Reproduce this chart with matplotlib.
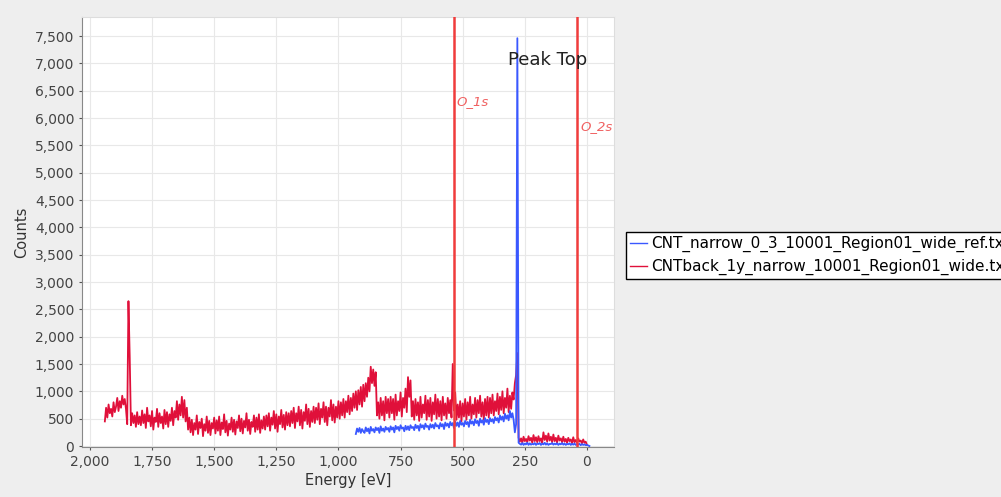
import numpy as np
import matplotlib as mpl
mpl.use('Agg')
import matplotlib.pyplot as plt
from matplotlib.ticker import FuncFormatter, MultipleLocator

# Spectrum grid (eV), 5 eV steps, counts
red_energy = np.arange(1940, -1, -5)
red_counts = [
    450, 700, 520, 760, 600, 680, 540, 800, 620,                                  # 1940-1900
    720, 880, 640, 820, 700, 920, 760, 860, 680, 400, 2650, 1650, 380, 600, 420, 560, 350, 620, 400, 540,
    380, 650, 420, 580, 330, 700, 450, 560, 360, 640, 300, 520, 440, 680, 350, 600, 420, 540, 320, 660,
    400, 620, 350, 580, 460, 700, 380, 640, 520, 820, 480, 760, 560, 900, 520, 840, 450, 700, 300, 520,
    250, 480, 200, 420, 300, 560, 220, 440, 330, 500, 180, 400, 280, 540, 240, 460, 200, 420, 320, 520,
    230, 470, 280, 540, 200, 430, 310, 580, 250, 460, 190, 410, 300, 520, 260, 480, 210, 450, 330, 560,
    270, 500, 230, 460, 340, 600, 280, 480, 220, 440, 350, 560, 260, 520, 300, 580, 240, 470, 320, 540,
    300, 560, 360, 600, 280, 520, 390, 640, 320, 580, 260, 540, 400, 660, 340, 570, 300, 620, 380, 600,
    360, 640, 420, 700, 330, 600, 450, 720, 380, 660, 320, 620, 460, 760, 400, 680, 350, 640, 440, 720,
    420, 700, 480, 780, 400, 680, 520, 800, 440, 720, 380, 700, 540, 840, 470, 760, 430, 720, 520, 820,
    500, 800, 560, 860, 520, 820, 620, 920, 580, 880, 640, 960, 700, 1000, 660, 1020, 760, 1080, 720, 1120,
    820, 1150, 900, 1250, 1000, 1450, 1150, 1400, 1100, 1350, 560, 800, 500, 880, 560, 820, 470, 900, 600, 860,
    520, 900, 600, 860, 480, 940, 560, 820, 640, 980, 540, 880, 700, 1050, 620, 1260, 900, 1200, 540, 820,
    480, 860, 560, 800, 460, 900, 520, 760, 600, 920, 480, 840, 540, 880, 460, 800, 580, 940, 500, 860,
    540, 820, 470, 900, 560, 780, 500, 880, 600, 840, 520, 1500, 650, 980, 480, 760, 520, 820, 450, 780,
    540, 860, 480, 800, 560, 900, 500, 760, 580, 880, 520, 840, 600, 920, 540, 800, 480, 860, 560, 900,
    520, 880, 600, 940, 560, 820, 640, 960, 580, 900, 660, 1000, 600, 880, 700, 1050, 620, 920, 680, 980,
    850, 1150, 1300, 1700, 150, 80, 140, 60, 170, 90, 130, 70, 180, 100, 150, 60, 200, 90, 160, 70,
    180, 90, 140, 60, 250, 110, 190, 80, 230, 100, 170, 70, 210, 90, 150, 60, 190, 100, 140, 70,
    170, 80, 130, 60, 150, 90, 120, 50, 160, 70, 110, 60, 140, 80, 100, 50, 120, 60, 80, 20,      # 95-0
]

blue_energy = np.arange(930, -11, -5)
blue_counts = [
    220, 320, 260, 330, 240, 310, 270,                                           # 930-900
    240, 340, 270, 320, 230, 350, 280, 310, 250, 340, 290, 330, 240, 360, 280, 320, 260, 350, 300, 330,
    260, 360, 300, 340, 250, 370, 310, 350, 280, 380, 320, 340, 270, 370, 300, 360, 290, 380, 330, 350,
    290, 390, 330, 370, 280, 400, 340, 380, 310, 410, 350, 370, 300, 400, 340, 390, 320, 420, 360, 380,
    320, 420, 360, 400, 310, 430, 370, 410, 340, 440, 380, 420, 330, 450, 370, 430, 350, 460, 390, 420,
    360, 460, 400, 440, 350, 480, 410, 450, 380, 490, 420, 460, 370, 500, 430, 470, 390, 510, 440, 480,
    400, 510, 450, 490, 420, 530, 470, 510, 430, 560, 480, 540, 450, 590, 500, 560, 470, 640, 520, 600,
    480, 250, 400, 7460, 60, 40, 25, 55, 20, 45, 30, 60, 20, 50, 25, 40, 30, 55, 20, 45,
    35, 55, 20, 45, 30, 60, 25, 50, 20, 40, 35, 55, 25, 45, 30, 50, 20, 45, 30, 55,
    25, 45, 20, 40, 30, 50, 20, 40, 25, 45, 20, 35, 25, 40, 15, 35, 20, 30, 15, 20,
    10, 0,                                                                       # -5, -10
]

series_names = ['CNT_narrow_0_3_10001_Region01_wide_ref.txt',
                'CNTback_1y_narrow_10001_Region01_wide.txt']

markers = {'O_1s': 536, 'O_2s': 40}

fig = plt.figure(figsize=(10.01, 4.97), dpi=100, facecolor='#eeeeee')
ax = fig.add_axes([0.0819, 0.1006, 0.5315, 0.8652])
ax.set_facecolor('white')

red_line, = ax.plot(red_energy, red_counts, color='#e0103a', lw=1.3, zorder=3)
blue_line, = ax.plot(blue_energy, blue_counts, color='#3a58ff', lw=1.3, zorder=4)

for name, e in markers.items():
    ax.axvline(e, color='#f03c3c', lw=1.8, zorder=5)
ax.text(527, 6310, 'O_1s', color='#f06060', fontstyle='italic', fontsize=9.5,
        ha='left', va='center', zorder=6)
ax.text(28, 5853, 'O_2s', color='#f06060', fontstyle='italic', fontsize=9.5,
        ha='left', va='center', zorder=6)
ax.text(318, 7061, 'Peak Top', color='#222222', fontsize=13,
        ha='left', va='center', zorder=6)

ax.set_xlim(2032, -109)
ax.set_ylim(-18, 7848)
ax.xaxis.set_major_locator(MultipleLocator(250))
ax.yaxis.set_major_locator(MultipleLocator(500))
fmt = FuncFormatter(lambda v, p: '{:,.0f}'.format(v))
ax.xaxis.set_major_formatter(fmt)
ax.yaxis.set_major_formatter(fmt)
ax.tick_params(labelsize=10, colors='#555555', labelcolor='#444444', length=2, width=0.8)
ax.grid(True, color='#e8e8e8', lw=0.8, zorder=0)
ax.set_axisbelow(True)
for s in ['left', 'bottom']:
    ax.spines[s].set_color('#888888')
for s in ['top', 'right']:
    ax.spines[s].set_color('#dddddd')

ax.set_xlabel('Energy [eV]', fontsize=10.5, color='#333333', labelpad=3)
ax.set_ylabel('Counts', fontsize=10.5, color='#333333', labelpad=4)

# legend runs past the right edge of the figure, as in the original window
fig.legend([blue_line, red_line], series_names, loc='upper left',
           bbox_to_anchor=(0.6254, 0.533), fontsize=11, frameon=True,
           fancybox=False, edgecolor='black', facecolor='white', framealpha=1,
           handlelength=1.1, handletextpad=0.3, borderpad=0.25, labelspacing=0.45,
           borderaxespad=0)
for h in fig.legends[0].get_lines():
    h.set_linewidth(1.0)

plt.savefig('out.png', dpi=100, facecolor=fig.get_facecolor())
